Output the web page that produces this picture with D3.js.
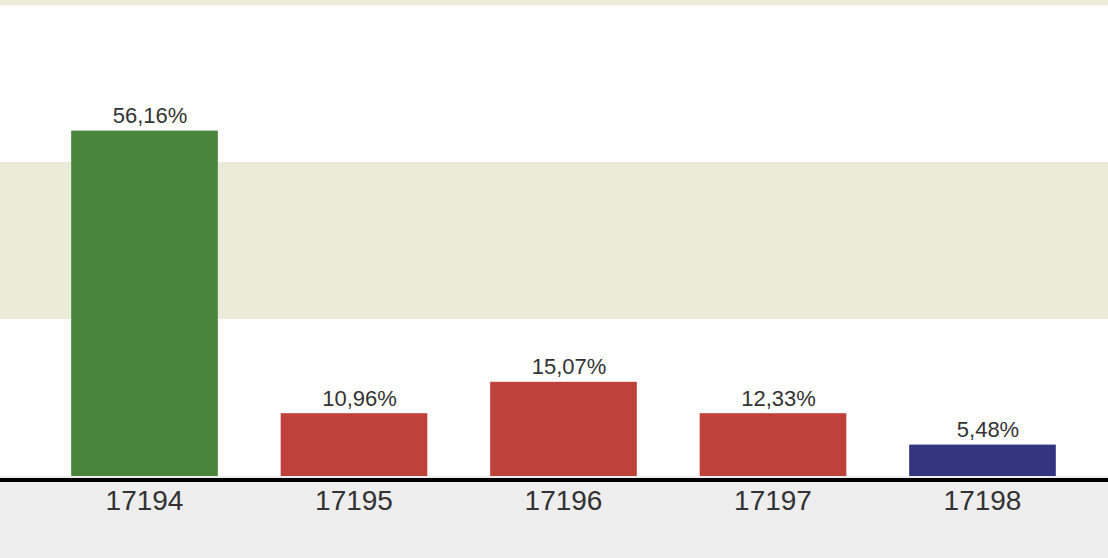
<!DOCTYPE html>
<html><head><meta charset="utf-8">
<script src="https://cdn.jsdelivr.net/npm/d3@7"></script>
<style>html,body{margin:0;padding:0;background:#fff;}svg{display:block;}</style>
</head><body>
<script>
const categories = ["17194", "17195", "17196", "17197", "17198"];
const values = [11, 2, 3, 2, 1];
const labels = ["56,16%", "10,96%", "15,07%", "12,33%", "5,48%"];
const colors = ["#4a853d", "#bf413c", "#bf413c", "#bf413c", "#333581"];
const bandTicks = [0, 5, 10, 15, 20];

const W = 1108, H = 558;
const svg = d3.select("body").append("svg").attr("width", W).attr("height", H);

const x = d3.scaleBand().domain(categories).range([39.75, 1087.25]).paddingInner(0.3).paddingOuter(0.15);
const y = d3.scaleLinear().domain([0, 15]).range([476, 5]);

// alternating bands
svg.append("clipPath").attr("id", "plot").append("rect").attr("x", 0).attr("y", 0).attr("width", W).attr("height", 476);
const bands = svg.append("g").attr("clip-path", "url(#plot)");
bands.selectAll("rect").data(d3.pairs(bandTicks)).join("rect")
  .attr("x", 0).attr("width", W)
  .attr("y", d => y(d[1])).attr("height", d => y(d[0]) - y(d[1]))
  .attr("fill", (d, i) => i % 2 === 1 ? "#ebebd9" : "#ffffff");

// bottom gray area
svg.append("rect").attr("x", 0).attr("y", 476).attr("width", W).attr("height", H - 476).attr("fill", "#eeeeee");

// bars
svg.append("g").selectAll("rect").data(categories).join("rect")
  .attr("x", d => x(d)).attr("width", x.bandwidth())
  .attr("y", (d, i) => y(values[i])).attr("height", (d, i) => y(0) - y(values[i]))
  .attr("fill", (d, i) => colors[i]);

// value labels
svg.append("g").selectAll("text").data(categories).join("text")
  .attr("x", d => x(d) + x.bandwidth() / 2 + 5.5)
  .attr("y", (d, i) => y(values[i]) - 7.5)
  .attr("text-anchor", "middle")
  .attr("font-family", "Liberation Sans, Arial, sans-serif")
  .attr("font-size", 22).attr("fill", "#333")
  .text((d, i) => labels[i]);

// x axis
const xAxis = svg.append("g").attr("transform", "translate(0,480)")
  .call(d3.axisBottom(x).tickSize(0).tickPadding(0));
xAxis.select(".domain").remove();
xAxis.append("line").attr("x1", 0).attr("x2", W).attr("y1", 0).attr("y2", 0)
  .attr("stroke", "#000").attr("stroke-width", 4);
xAxis.selectAll(".tick text")
  .attr("y", 30).attr("dy", 0)
  .attr("font-family", "Liberation Sans, Arial, sans-serif")
  .attr("font-size", 28).attr("fill", "#333");
</script>
</body></html>
